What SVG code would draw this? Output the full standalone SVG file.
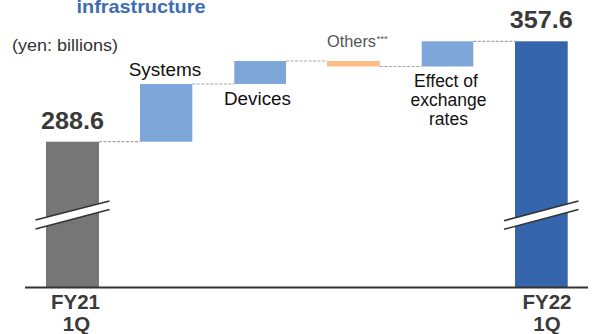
<svg xmlns="http://www.w3.org/2000/svg" width="592" height="334" viewBox="0 0 592 334">
<style>
text{font-family:"Liberation Sans",Arial,sans-serif}
.lbl{font-size:18px;fill:#111}
.val{font-size:24px;font-weight:bold;fill:#3a3a3a}
.ax{font-size:20.5px;font-weight:bold;fill:#3a3a3a;text-anchor:middle}
.dash{stroke:#a6a6a6;stroke-width:1.2;stroke-dasharray:3 1.5;fill:none}
.brk{fill:#fff;stroke:none}
.brkl{stroke:#333;stroke-width:1.5;fill:none}
</style>
<rect width="592" height="334" fill="#fff"/>
<text x="76.5" y="12.5" font-size="18.5" font-weight="bold" fill="#3d6cb5" textLength="129" lengthAdjust="spacingAndGlyphs">infrastructure</text>
<text x="12" y="51" font-size="17" fill="#333" textLength="106" lengthAdjust="spacingAndGlyphs">(yen: billions)</text>
<g id="connectors">
<line class="dash" x1="99" y1="141.7" x2="140" y2="141.7"/>
<line class="dash" x1="192.3" y1="84" x2="234.3" y2="84"/>
<line class="dash" x1="286" y1="61" x2="327" y2="61"/>
<line class="dash" x1="380" y1="66.5" x2="421.7" y2="66.5"/>
<line class="dash" x1="473.3" y1="41.3" x2="515" y2="41.3"/>
</g>
<g id="fy21">
<rect x="46" y="141.7" width="53" height="145.5" fill="#767676"/>
<polygon class="brk" points="35.5,220 109.5,201 109.5,209.5 35.5,229"/>
<line class="brkl" x1="35.5" y1="220" x2="109.5" y2="201"/>
<line class="brkl" x1="35.5" y1="229" x2="109.5" y2="209.5"/>
<text class="val" x="72.5" y="128.5" text-anchor="middle" textLength="63" lengthAdjust="spacingAndGlyphs">288.6</text>
<text class="ax" x="75.5" y="308.5">FY21</text>
<text class="ax" x="76.5" y="331">1Q</text>
</g>
<g id="systems">
<rect x="140" y="84" width="52.3" height="57.7" fill="#7fa6d9"/>
<text class="lbl" x="128.7" y="76" textLength="72.6" lengthAdjust="spacingAndGlyphs">Systems</text>
</g>
<g id="devices">
<rect x="234.3" y="61" width="51.7" height="23" fill="#7fa6d9"/>
<text class="lbl" x="224" y="105" textLength="67" lengthAdjust="spacingAndGlyphs">Devices</text>
</g>
<g id="others">
<rect x="327" y="61" width="53" height="5.5" fill="#fcbe84"/>
<text x="327" y="47" font-size="16" fill="#555" textLength="49" lengthAdjust="spacingAndGlyphs">Others</text>
<text x="376.5" y="41.5" font-size="9.5" fill="#555">***</text>
</g>
<g id="exchange">
<rect x="421.7" y="41.3" width="51.6" height="25.2" fill="#7fa6d9"/>
<text class="lbl" x="446" y="87" text-anchor="middle" style="font-size:17.5px">Effect of</text>
<text class="lbl" x="448.5" y="106" text-anchor="middle" style="font-size:17.5px">exchange</text>
<text class="lbl" x="448.5" y="125" text-anchor="middle" style="font-size:17.5px">rates</text>
</g>
<g id="fy22">
<rect x="515" y="41.3" width="52.7" height="245.9" fill="#3566ad"/>
<polygon class="brk" points="504,220.7 578.5,201 578.5,209.5 504,229.3"/>
<line class="brkl" x1="504" y1="220.7" x2="578.5" y2="201"/>
<line class="brkl" x1="504" y1="229.3" x2="578.5" y2="209.5"/>
<text class="val" x="541.3" y="27.5" text-anchor="middle" textLength="63" lengthAdjust="spacingAndGlyphs">357.6</text>
<text class="ax" x="547" y="308.5">FY22</text>
<text class="ax" x="547" y="331">1Q</text>
</g>
<line x1="25" y1="287.5" x2="588" y2="287.5" stroke="#333" stroke-width="2"/>
</svg>
